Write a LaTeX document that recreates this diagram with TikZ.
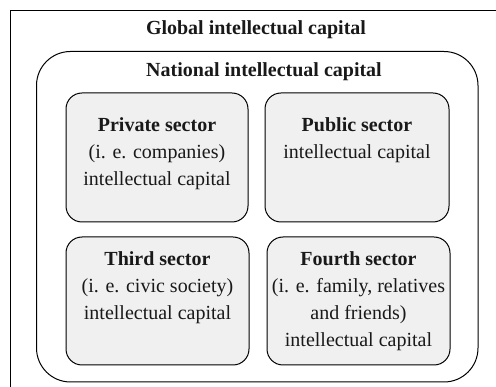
\documentclass[tikz,border=0pt]{standalone}
\usepackage{fontspec}
\setmainfont{Liberation Serif}
\begin{document}
\begin{tikzpicture}[x=1pt,y=-1pt,
  frameline/.style={line width=1pt, draw=black},
  natbox/.style={frameline, rounded corners=34pt},
  secbox/.style={frameline, fill=gray!12, rounded corners=16pt},
  txt/.style={align=center, font=\fontsize{20}{27}\selectfont, text=black!90, inner sep=0pt},
  ttl/.style={font=\fontsize{20}{24}\bfseries\selectfont, text=black!90, inner sep=0pt}]
\useasboundingbox (0,0) rectangle (496,387);
% outer (cropped) frame
\coordinate (gtr) at (496,10.5);
\coordinate (gtl) at (10.5,10.5);
\coordinate (gbl) at (10.5,387);
\draw[frameline] (gtr) -- (gtl) -- (gbl);
\node[ttl] (global) at (256,30) {Global intellectual capital};
% national box
\draw[natbox] (36.5,51.5) rectangle (478,382);
\node[ttl] (national) at (264,72) {National intellectual capital};
% sector boxes
\draw[secbox] (66,93) rectangle (248,222);
\draw[secbox] (265,93) rectangle (449,222);
\draw[secbox] (66,237) rectangle (249,365);
\draw[secbox] (267,237) rectangle (450,365);
\node[txt] (priv) at (157,154) {\textbf{Private sector}\\(i. e. companies)\\intellectual capital};
\node[txt] (pub) at (357,140) {\textbf{Public sector}\\intellectual capital};
\node[txt] (third) at (157.5,287.5) {\textbf{Third sector}\\(i. e. civic society)\\intellectual capital};
\node[txt] (fourth) at (358.5,301) {\textbf{Fourth sector}\\(i. e. family, relatives\\and friends)\\intellectual capital};
\end{tikzpicture}
\end{document}
